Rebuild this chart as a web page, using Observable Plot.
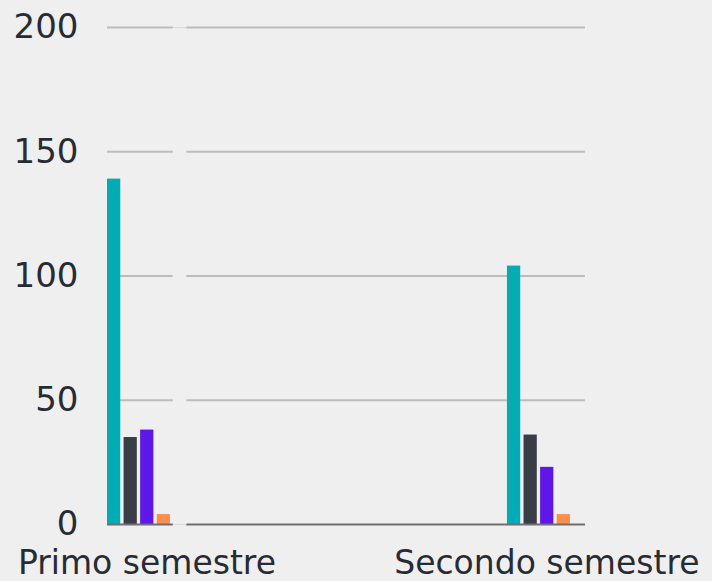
<!DOCTYPE html>
<html>
<head>
<meta charset="utf-8">
<script src="https://cdn.jsdelivr.net/npm/d3@7"></script>
<script src="https://cdn.jsdelivr.net/npm/@observablehq/plot@0.6"></script>
<style>
  html, body { margin: 0; padding: 0; background: #efefef; }
  #chart svg { display: block; }
</style>
</head>
<body>
<div id="chart"></div>
<script>
// ---- data ----
const semesters = ["Primo semestre", "Secondo semestre"];
const seriesNames = ["Serie 1", "Serie 2", "Serie 3", "Serie 4"];
const seriesColors = ["#00adb4", "#393d45", "#5e16ea", "#ff8e4c"];
const serie1 = [139, 104];
const serie2 = [35, 36];
const serie3 = [38, 23];
const serie4 = [4, 4];
const yTicks = [0, 50, 100, 150, 200];

// ---- layout (in bar-step units) ----
const groupOffset = 24.14;
const barWidth = 0.8;
const labelShift = 2.38;
const xMax = 28.85;
const segments = [[0, 3.97], [4.79, xMax]];

const allSeries = [serie1, serie2, serie3, serie4];
const bars = [];
semesters.forEach((s, g) => {
  allSeries.forEach((vals, j) => {
    const x1 = g * groupOffset + j;
    bars.push({semester: s, series: seriesNames[j], value: vals[g], x1, x2: x1 + barWidth});
  });
});
const labels = semesters.map((s, g) => ({semester: s, x: g * groupOffset + labelShift}));
const grid = [];
yTicks.forEach(t => segments.forEach(([a, b]) => grid.push({y: t, x1: a, x2: b})));
const gapLines = [0, 200].map(t => ({y: t, x1: segments[0][1], x2: segments[1][0]}));

const font = "'DejaVu Sans', sans-serif";
const chart = Plot.plot({
  width: 712,
  height: 581,
  marginLeft: 107,
  marginRight: 127,
  marginTop: 27,
  marginBottom: 57,
  style: {background: "#efefef", fontFamily: font, color: "#272c34"},
  x: {domain: [0, xMax], axis: null},
  y: {domain: [0, 200], axis: null},
  color: {domain: seriesNames, range: seriesColors},
  marks: [
    Plot.ruleY(gapLines, {y: "y", x1: "x1", x2: "x2", stroke: "#d9d9d9", strokeWidth: 1}),
    Plot.ruleY(grid.filter(d => d.y !== 0), {y: "y", x1: "x1", x2: "x2", stroke: "#bcbcbc", strokeWidth: 2}),
    Plot.rectY(bars, {x1: "x1", x2: "x2", y1: 0, y2: "value", fill: "series"}),
    Plot.ruleY(grid.filter(d => d.y === 0), {y: "y", x1: "x1", x2: "x2", stroke: "#6e6e6e", strokeWidth: 2}),
    Plot.axisY({ticks: yTicks, tickSize: 0, tickPadding: 29, fontSize: 34, fill: "#272c34", label: null}),
    Plot.text(labels, {x: "x", text: "semester", frameAnchor: "bottom", lineAnchor: "bottom", dy: 49, fontSize: 33, fill: "#272c34"})
  ]
});
document.getElementById("chart").appendChild(chart);
</script>
</body>
</html>
